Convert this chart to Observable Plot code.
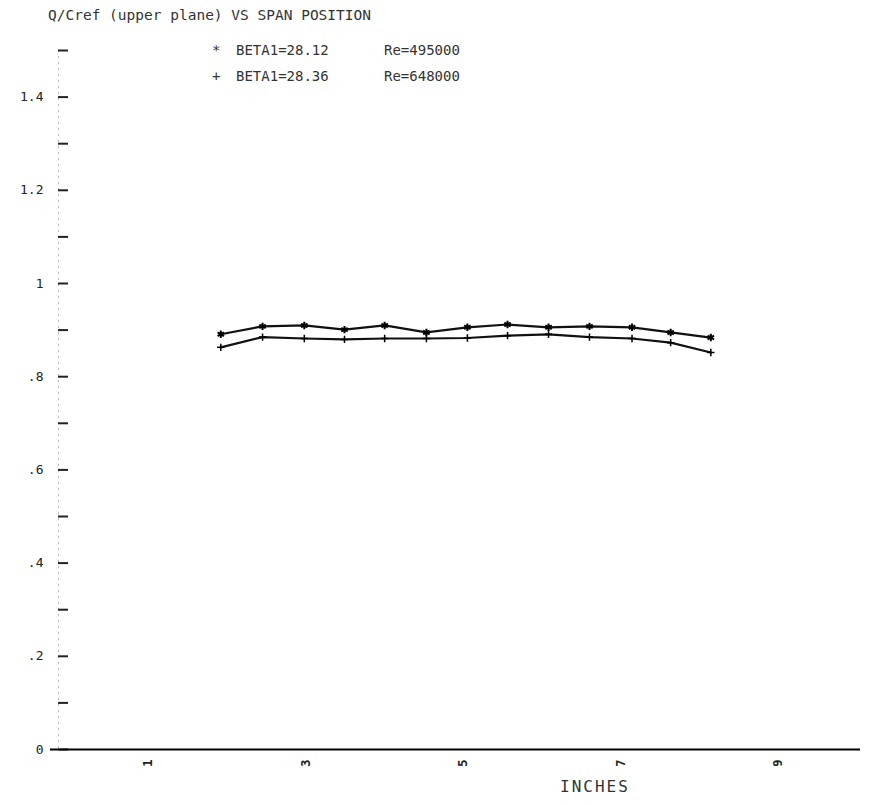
<!DOCTYPE html>
<html><head><meta charset="utf-8">
<script src="https://cdn.jsdelivr.net/npm/d3@7"></script>
<script src="https://cdn.jsdelivr.net/npm/@observablehq/plot@0.6"></script>
<style>
body{margin:0;background:#fff;}
#wrap{position:relative;width:870px;height:804px;font-family:"DejaVu Sans Mono",monospace;color:#333;}
#chart{position:absolute;left:0;top:0;}
#title{position:absolute;left:48px;top:7px;font-size:14.5px;white-space:pre;}
.leg{position:absolute;font-size:14px;white-space:pre;}
#xlabel{position:absolute;left:560px;top:777px;font-size:16px;letter-spacing:2px;}
</style></head><body>
<div id="wrap">
  <div id="chart"></div>
  <div id="title"></div>
  <div id="legend"></div>
  <div id="xlabel"></div>
</div>
<script>
// ---- data ----
const chartTitle = "Q/Cref (upper plane) VS SPAN POSITION";
const xAxisLabel = "INCHES";
const spanInches = [1.92, 2.45, 2.98, 3.49, 4.00, 4.53, 5.05, 5.56, 6.08, 6.60, 7.14, 7.63, 8.14];
const qBeta2812 = [0.891, 0.908, 0.910, 0.901, 0.910, 0.895, 0.906, 0.912, 0.906, 0.908, 0.906, 0.895, 0.884];
const qBeta2836 = [0.863, 0.885, 0.882, 0.880, 0.882, 0.882, 0.883, 0.888, 0.891, 0.885, 0.882, 0.873, 0.852];
const seriesSymbols = ["*", "+"];
const seriesBeta = ["BETA1=28.12", "BETA1=28.36"];
const seriesRe = ["Re=495000", "Re=648000"];
const yLabelTicks = [0, 0.2, 0.4, 0.6, 0.8, 1.0, 1.2, 1.4];
const yTickLabels = ["0", ".2", ".4", ".6", ".8", "1", "1.2", "1.4"];
const yAllTicks = [0, 0.1, 0.2, 0.3, 0.4, 0.5, 0.6, 0.7, 0.8, 0.9, 1.0, 1.1, 1.2, 1.3, 1.4, 1.5];
const xTicks = [1, 3, 5, 7, 9];
const xTickLabels = ["1", "3", "5", "7", "9"];

const rows = spanInches.flatMap((x, i) => [
  {x, q: qBeta2812[i], s: 0},
  {x, q: qBeta2836[i], s: 1}
]);

const chart = Plot.plot({
  width: 870, height: 804,
  marginLeft: 58, marginRight: 10, marginTop: 50, marginBottom: 55,
  x: {domain: [-0.14, 10.04]},
  y: {domain: [0, 1.5]},
  style: {fontFamily: "DejaVu Sans Mono, monospace", fontSize: "13px", color: "#222", background: "white"},
  marks: [
    Plot.frame({anchor: "left", stroke: "#bbb", strokeDasharray: "1,5"}),
    Plot.axisY(yAllTicks, {tickSize: -10, strokeWidth: 2, tickFormat: () => "", label: null}),
    Plot.axisY(yLabelTicks, {tickSize: 0, tickPadding: 15, label: null,
      tickFormat: d => yTickLabels[yLabelTicks.findIndex(v => Math.abs(v - d) < 1e-9)]}),
    Plot.axisX(xTicks, {tickSize: 0, tickPadding: 10, tickRotate: -90, fontSize: 12, fontWeight: "bold", label: null,
      tickFormat: d => xTickLabels[xTicks.indexOf(d)]}),
    Plot.ruleY([0], {stroke: "#000", strokeWidth: 2.2, insetLeft: -8}),
    Plot.line(rows, {x: "x", y: "q", z: "s", stroke: "#111", strokeWidth: 2.2}),
    Plot.dot(rows.filter(d => d.s === 0), {x: "x", y: "q", symbol: "asterisk", r: 3.5, stroke: "#000", strokeWidth: 2}),
    Plot.dot(rows.filter(d => d.s === 1), {x: "x", y: "q", symbol: "plus", r: 2.5, stroke: "#000", strokeWidth: 1.5})
  ]
});
document.getElementById("chart").appendChild(chart);
document.getElementById("title").textContent = chartTitle;
const legend = document.getElementById("legend");
seriesBeta.forEach((b, i) => {
  const top = 42 + i * 26;
  [[seriesSymbols[i], 212], [b, 236], [seriesRe[i], 384]].forEach(([t, left]) => {
    const el = document.createElement("div");
    el.className = "leg";
    el.style.top = top + "px";
    el.style.left = left + "px";
    el.textContent = t;
    legend.appendChild(el);
  });
});
document.getElementById("xlabel").textContent = xAxisLabel;
</script>
</body></html>
